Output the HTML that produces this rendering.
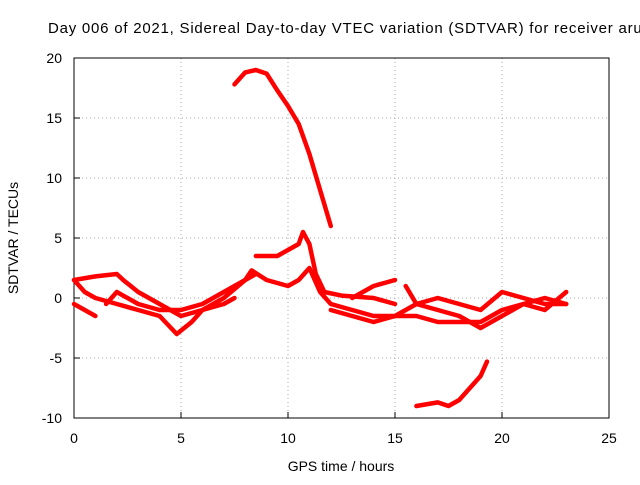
<!DOCTYPE html>
<html><head><meta charset="utf-8"><style>
body{margin:0;background:#fff}
svg{font-family:"Liberation Sans",sans-serif;font-size:14px}
</style></head><body>
<svg width="640" height="480">
<rect width="640" height="480" fill="#fff"/>
<g id="grid"></g>
<rect x="74" y="58" width="535" height="360" fill="none" stroke="#000"/>
<g id="axes"></g>
<g id="series"></g>
<text x="48" y="33" fill="#000" style="font-size:15px" textLength="602" lengthAdjust="spacing">Day 006 of 2021, Sidereal Day-to-day VTEC variation (SDTVAR) for receiver aruc</text>
<text x="341" y="471" text-anchor="middle">GPS time / hours</text>
<text transform="translate(18,238) rotate(-90)" text-anchor="middle">SDTVAR / TECUs</text>
</svg>
<script>
const xTicks=[0,5,10,15,20,25];
const yTicks=[-10,-5,0,5,10,15,20];
const s1x=[7.5,8,8.5,9,9.5,10,10.5,11,11.5,12];
const s1y=[17.8,18.8,19,18.7,17.3,16,14.5,12,9,6];
const s2x=[8.5,9.5,10,10.5,10.7,11,11.3,11.7,12.5,14,15];
const s2y=[3.5,3.5,4,4.5,5.5,4.5,2,0.5,0.2,0,-0.5];
const s3x=[16,17,17.5,18,18.5,19,19.3];
const s3y=[-9,-8.7,-9,-8.5,-7.5,-6.5,-5.3];
const s4x=[0,1,2,2.3,3,4,5,6,7,8,8.3,9,10,10.5,11,11.5,12,13,14,15,16,17,18,19,20,21,22,23];
const s4y=[1.5,1.8,2,1.5,0.5,-0.5,-1.5,-1,0,1.5,2.3,1.5,1,1.5,2.5,0.5,-0.5,-1,-1.5,-1.5,-1.5,-2,-2,-2,-1,-0.5,0,-0.5];
const s5x=[0,0.5,1,2,3,4,4.8,5.5,6,7,7.5];
const s5y=[1.5,0.5,0,-0.5,-1,-1.5,-3,-2,-1,-0.5,0];
const s6x=[0,0.5,1];
const s6y=[-0.5,-1,-1.5];
const s7x=[1.5,2,3,4,5,6,7,8,8.5];
const s7y=[-0.5,0.5,-0.5,-1,-1,-0.5,0.5,1.5,2];
const s8x=[12,13,14,15,16,17,18,19,20,21,22,23];
const s8y=[-1,-1.5,-2,-1.5,-0.5,-1,-1.5,-2.5,-1.5,-0.5,-1,0.5];
const s9x=[13,14,15];
const s9y=[0,1,1.5];
const s10x=[15.5,16,17,18,19,20,21,22,23];
const s10y=[1,-0.5,0,-0.5,-1,0.5,0,-0.5,-0.5];
const allX=[s1x,s2x,s3x,s4x,s5x,s6x,s7x,s8x,s9x,s10x];
const allY=[s1y,s2y,s3y,s4y,s5y,s6y,s7y,s8y,s9y,s10y];
const NS="http://www.w3.org/2000/svg";
const X=v=>74+v*535/25, Y=v=>418-(v+10)*12;
const grid=document.getElementById('grid'),axes=document.getElementById('axes'),ser=document.getElementById('series');
function mk(t,a,p){const e=document.createElementNS(NS,t);for(const k in a)e.setAttribute(k,a[k]);p.appendChild(e);return e;}
xTicks.forEach(t=>{
 if(t>0&&t<25){const g=mk('line',{x1:X(t),x2:X(t),y1:58,y2:418,stroke:'#aaa','stroke-dasharray':'1,3'},grid);
 
 }
 const tk=mk('line',{x1:X(t),x2:X(t),y1:418,y2:412,stroke:'#000'},axes);
 
 
 const l=mk('text',{x:X(t),y:443,'text-anchor':'middle'},axes);l.textContent=t;
 
 
});
yTicks.forEach(t=>{
 if(t>-10&&t<20){const g=mk('line',{x1:74,x2:609,y1:Y(t),y2:Y(t),stroke:'#aaa','stroke-dasharray':'1,3'},grid);
 
 }
 const tk=mk('line',{x1:74,x2:80,y1:Y(t),y2:Y(t),stroke:'#000'},axes);
 
 
 const l=mk('text',{x:62,y:Y(t)+5,'text-anchor':'end'},axes);l.textContent=t;
 
 
});
allX.forEach((xs,i)=>{
 const pts=xs.map((x,j)=>X(x)+','+Y(allY[i][j])).join(' ');
 const p=mk('polyline',{points:pts,fill:'none',stroke:'#f00','stroke-width':4.5,'stroke-linejoin':'round','stroke-linecap':'round'},ser);
 
 
});
</script>
</body></html>
